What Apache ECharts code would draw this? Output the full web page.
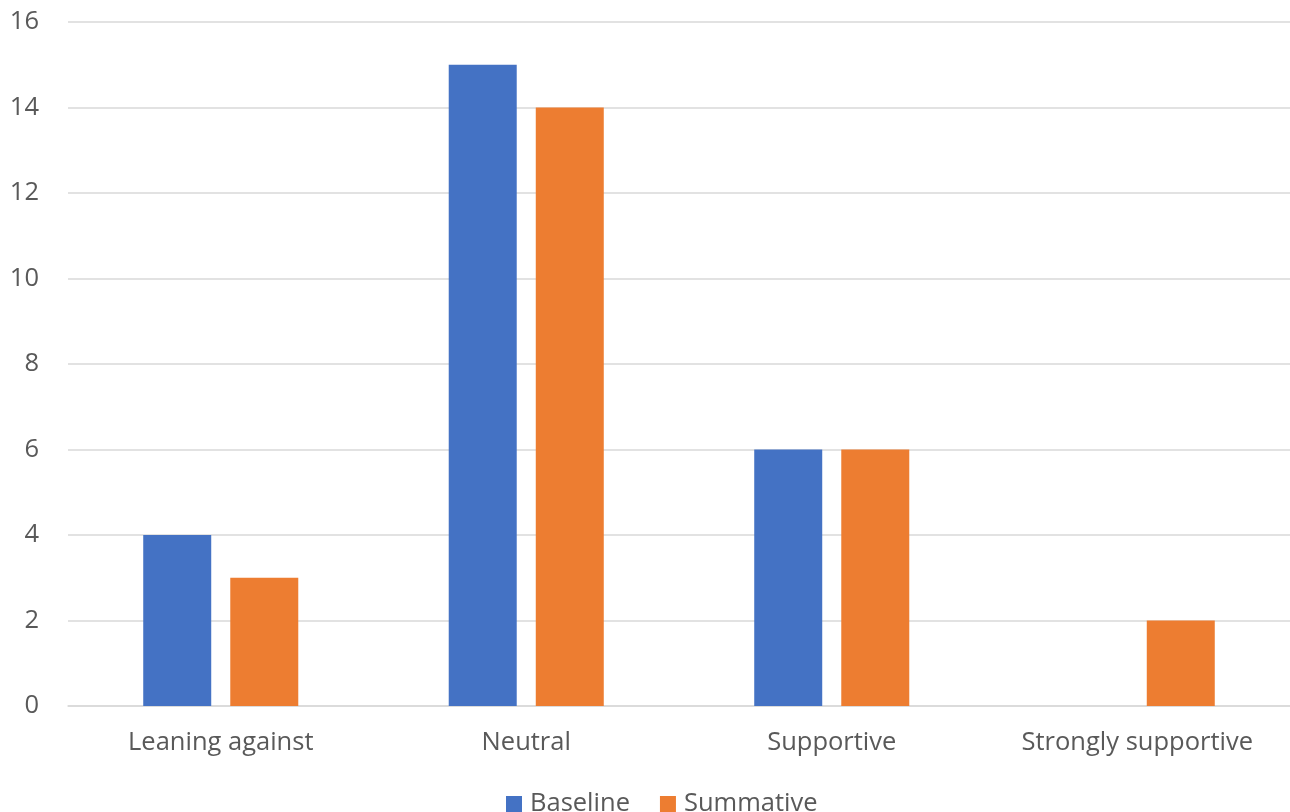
<!DOCTYPE html>
<html><head><meta charset="utf-8">
<script src="https://cdn.jsdelivr.net/npm/echarts@6/dist/echarts.min.js"></script>
<style>html,body{margin:0;padding:0;background:#fff}#c{width:1290px;height:812px}</style>
</head><body><div id="c"></div>
<script>
const categories = ['Leaning against', 'Neutral', 'Supportive', 'Strongly supportive'];
const baseline = [4, 15, 6, null];
const summative = [3, 14, 6, 2];
const yTicks = [0, 2, 4, 6, 8, 10, 12, 14, 16];

const chart = echarts.init(document.getElementById('c'), null, {renderer: 'canvas'});
const font = 'Open Sans, Noto Sans, sans-serif';
chart.setOption({
  animation: false,
  textStyle: {fontFamily: font},
  grid: {left: 68, right: 0, top: 22, bottom: 106, containLabel: false},
  legend: {
    data: ['Baseline', 'Summative'],
    top: 786, left: 501,
    itemWidth: 16, itemHeight: 16, itemGap: 30,
    icon: 'rect',
    textStyle: {fontSize: 25.5, color: '#595959', fontFamily: font, padding: [0, 0, 0, 3]}
  },
  xAxis: {
    type: 'category', data: categories,
    axisLine: {lineStyle: {color: '#d9d9d9', width: 1.5}},
    axisTick: {show: false},
    axisLabel: {fontSize: 25.5, color: '#595959', margin: 24, fontFamily: font}
  },
  yAxis: {
    type: 'value', min: yTicks[0], max: yTicks[yTicks.length - 1], interval: 2,
    axisLine: {show: false}, axisTick: {show: false},
    splitLine: {lineStyle: {color: '#d9d9d9', width: 1.5}},
    axisLabel: {fontSize: 25.5, color: '#595959', margin: 29, fontFamily: font}
  },
  series: [
    {name: 'Baseline', type: 'bar', data: baseline, barWidth: 68, barGap: '28%',
     itemStyle: {color: '#4472c4'}},
    {name: 'Summative', type: 'bar', data: summative, barWidth: 68,
     itemStyle: {color: '#ed7d31'}}
  ]
});
</script></body></html>
